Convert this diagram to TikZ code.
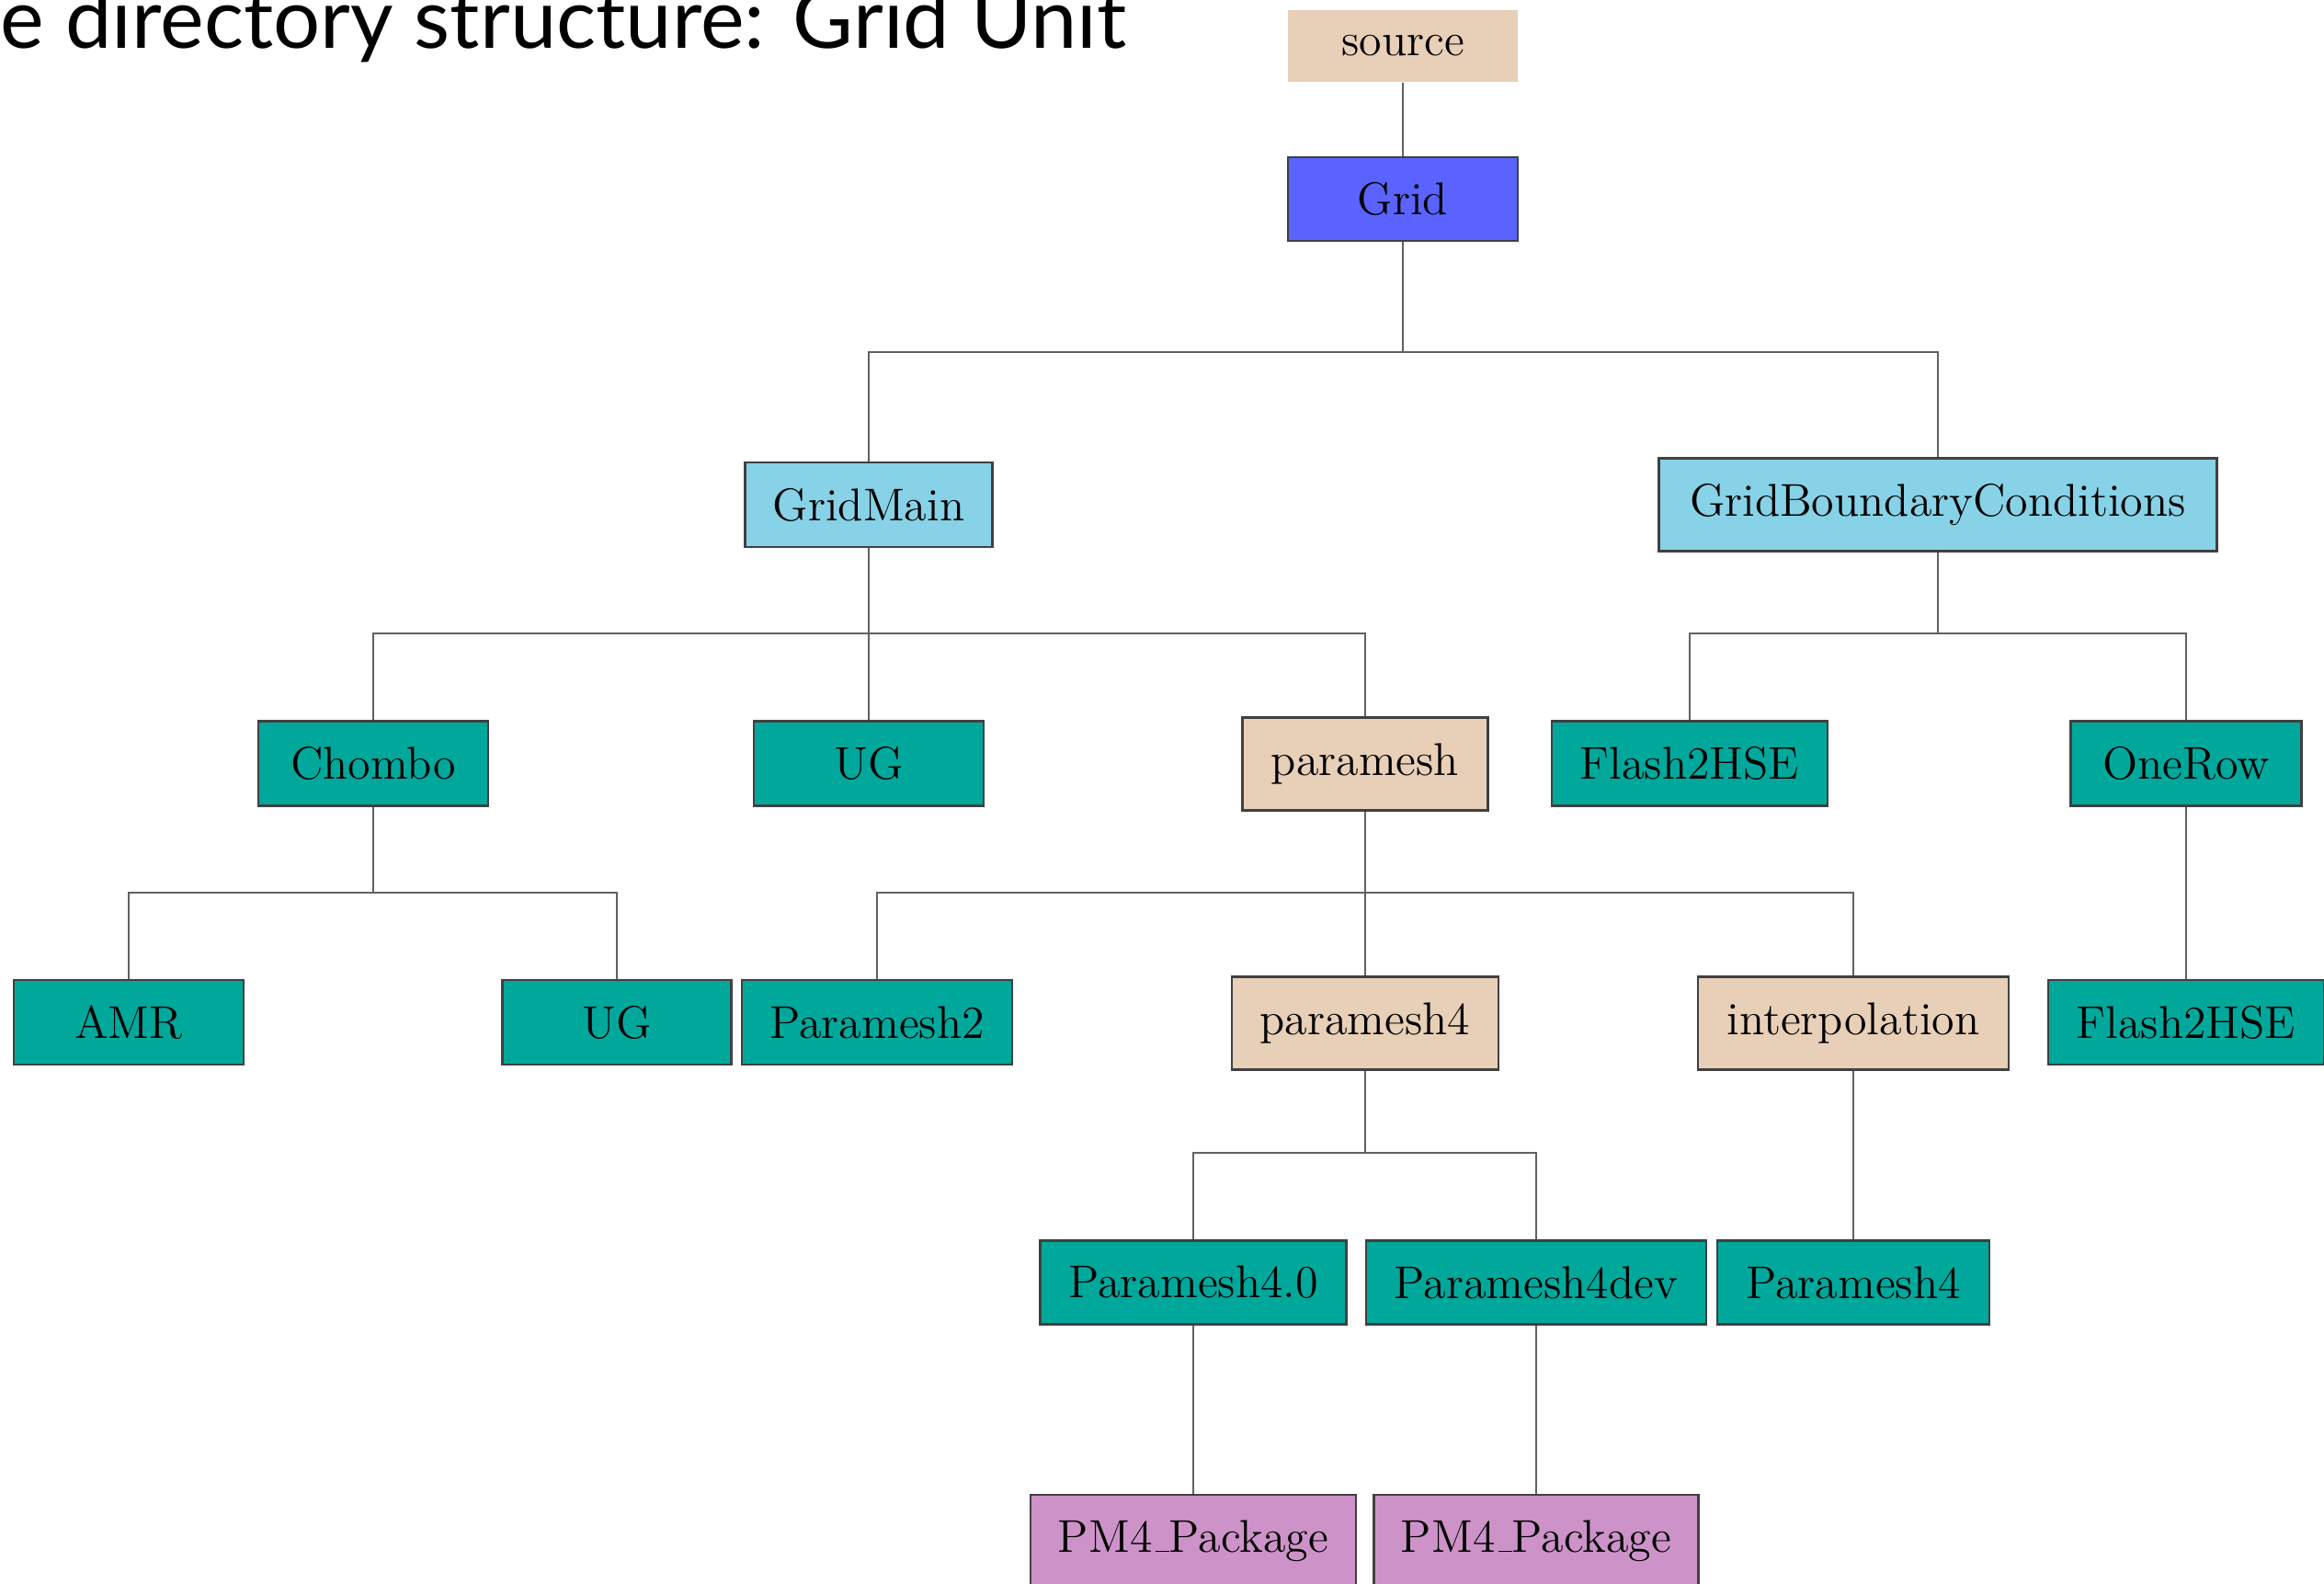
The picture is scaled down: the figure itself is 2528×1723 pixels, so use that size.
\documentclass[tikz,border=0pt]{standalone}
\usepackage{fontspec}
\newfontfamily\titlefont{Lato}
% short baseline rule, as the classic Computer Modern underscore
\newcommand{\lowbar}{\leavevmode\kern.06em\vbox{\hrule width.3em}}
\begin{document}
\begin{tikzpicture}[x=0.25pt, y=-0.25pt,
  dirbox/.style={draw=black!75, line width=0.6pt, inner sep=0pt,
    font=\fontsize{12.5}{15}\selectfont, text=black},
  sz/.style 2 args={minimum width=#1*0.25pt, minimum height=#2*0.25pt},
  leaf/.style={dirbox, fill=teal0},
  branch/.style={dirbox, fill=tan0},
  main/.style={dirbox, fill=sky0},
  pkg/.style={dirbox, fill=orchid0},
  link/.style={draw=black!62, line width=0.6pt}]
\definecolor{teal0}{RGB}{0,168,156}
\definecolor{tan0}{RGB}{232,207,183}
\definecolor{sky0}{RGB}{135,210,231}
\definecolor{orchid0}{RGB}{205,147,201}
\definecolor{blue0}{RGB}{90,99,255}

\path[use as bounding box, fill=white] (0,0) rectangle (2528,1723);

% heading
\node[anchor=base west, inner sep=0pt] (title) at (0,53)
  {\resizebox{306pt}{!}{\titlefont e directory structure: Grid Unit}};

% tree nodes
\node[dirbox, draw=none, fill=tan0, sz={250}{78}] (source) at (1526,50) {source};
\node[dirbox, fill=blue0, sz={250}{91}] (grid) at (1526,216.5) {Grid};

\node[main, sz={269}{92}] (gridmain) at (945,549) {GridMain};
\node[main, sz={607}{101}] (gbc) at (2108,549) {GridBoundaryConditions};

\node[leaf, sz={250}{92}] (chombo) at (406,830.5) {Chombo};
\node[leaf, sz={250}{92}] (ug) at (945,830.5) {UG};
\node[branch, sz={267}{101}] (paramesh) at (1485,831) {paramesh};
\node[leaf, sz={300}{92}] (fhse) at (1838,830.5) {Flash2HSE};
\node[leaf, sz={251}{92}] (onerow) at (2378,830.5) {OneRow};

\node[leaf, sz={250}{92}] (amr) at (140,1112) {AMR};
\node[leaf, sz={249}{92}] (ugc) at (671,1112) {UG};
\node[leaf, sz={294}{92}] (pm2) at (954,1112) {Paramesh2};
\node[branch, sz={290}{101}] (pm4dir) at (1485,1113) {paramesh4};
\node[branch, sz={338}{101}] (interp) at (2016,1113) {interpolation};
\node[leaf, sz={300}{92}] (fhseb) at (2378,1112) {Flash2HSE};

\node[leaf, sz={333}{91}] (pm40) at (1298,1395) {Paramesh4.0};
\node[leaf, sz={370}{91}] (pm4dev) at (1671,1395) {Paramesh4dev};
\node[leaf, sz={296}{91}] (pm4) at (2016,1395) {Paramesh4};

\node[pkg, sz={354}{100}] (pkga) at (1298,1676) {PM4\lowbar Package};
\node[pkg, sz={353}{100}] (pkgb) at (1671,1676) {PM4\lowbar Package};

% bus levels
\coordinate (b1) at (0,383);
\coordinate (b2) at (0,689);
\coordinate (b3) at (0,971);
\coordinate (b4) at (0,1254);

% connectors
\draw[link] (source.south) -- (grid.north);
\draw[link] (grid.south) -- (grid.south |- b1) -| (gridmain.north);
\draw[link] (grid.south |- b1) -| (gbc.north);

\draw[link] (gridmain.south) -- (ug.north);
\draw[link] (gridmain.south |- b2) -| (chombo.north);
\draw[link] (gridmain.south |- b2) -| (paramesh.north);

\draw[link] (gbc.south) -- (gbc.south |- b2) -| (fhse.north);
\draw[link] (gbc.south |- b2) -| (onerow.north);

\draw[link] (chombo.south) -- (chombo.south |- b3) -| (amr.north);
\draw[link] (chombo.south |- b3) -| (ugc.north);

\draw[link] (paramesh.south) -- (pm4dir.north);
\draw[link] (paramesh.south |- b3) -| (pm2.north);
\draw[link] (paramesh.south |- b3) -| (interp.north);

\draw[link] (onerow.south) -- (fhseb.north);

\draw[link] (pm4dir.south) -- (pm4dir.south |- b4) -| (pm40.north);
\draw[link] (pm4dir.south |- b4) -| (pm4dev.north);
\draw[link] (interp.south) -- (pm4.north);

\draw[link] (pm40.south) -- (pkga.north);
\draw[link] (pm4dev.south) -- (pkgb.north);
\end{tikzpicture}
\end{document}
